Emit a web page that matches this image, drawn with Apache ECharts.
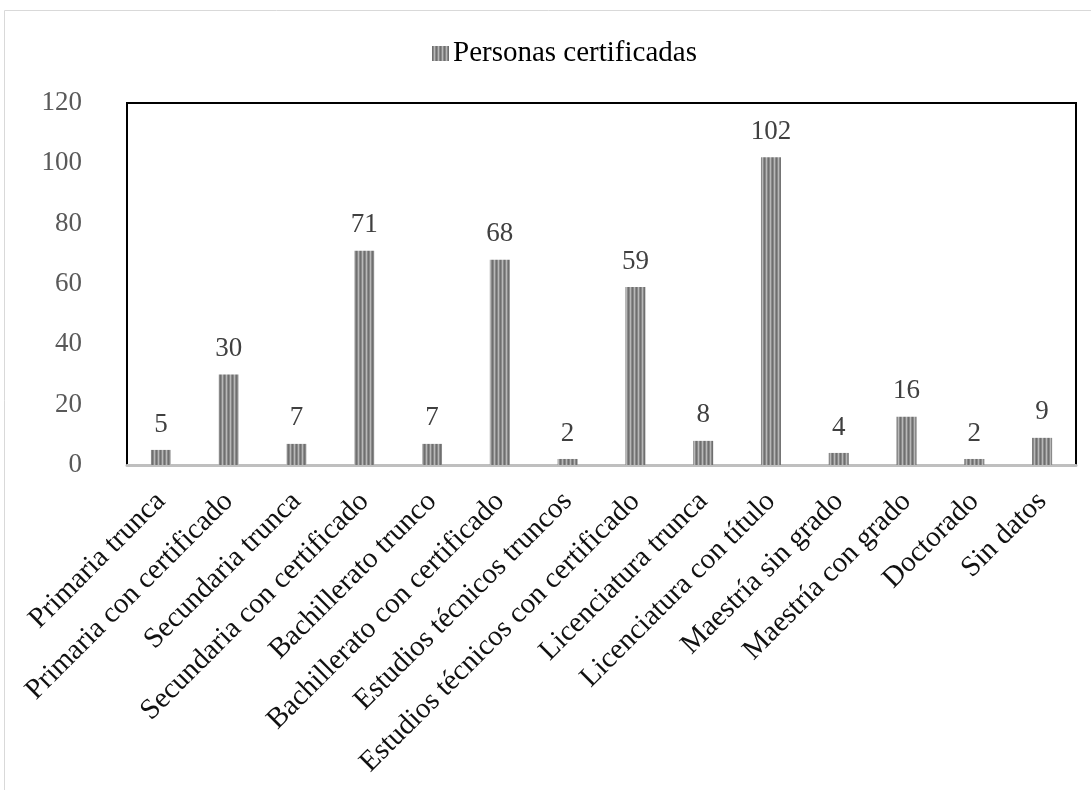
<!DOCTYPE html>
<html>
<head>
<meta charset="utf-8">
<script src="https://cdn.jsdelivr.net/npm/echarts@6/dist/echarts.min.js"></script>
<style>
  html, body { margin: 0; padding: 0; background: #fff; }
  #chart { width: 1091px; height: 790px; }
</style>
</head>
<body>
<div id="chart"></div>
<script>
// categorías (nivel de estudios)
const categories = [
  'Primaria trunca', 'Primaria con certificado', 'Secundaria trunca',
  'Secundaria con certificado', 'Bachillerato trunco', 'Bachillerato con certificado',
  'Estudios técnicos truncos', 'Estudios técnicos con certificado', 'Licenciatura trunca',
  'Licenciatura con título', 'Maestría sin grado', 'Maestría con grado',
  'Doctorado', 'Sin datos'
];
const values = [5, 30, 7, 71, 7, 68, 2, 59, 8, 102, 4, 16, 2, 9];
const seriesName = 'Personas certificadas';
const yTicks = [0, 20, 40, 60, 80, 100, 120];

// patrón de rayas verticales
const stripe = document.createElement('canvas');
stripe.width = 4;
stripe.height = 4;
const ctx = stripe.getContext('2d');
const stripeCols = ['#6f6f6f', '#8a8a8a', '#b8b8b8', '#8a8a8a'];
stripeCols.forEach((c, i) => {
  ctx.fillStyle = c;
  ctx.fillRect(i, 0, 1, 4);
});

const font = '"Liberation Serif", "DejaVu Serif", serif';
const myChart = echarts.init(document.getElementById('chart'));
const option = {
  animation: false,
  textStyle: { fontFamily: font },
  graphic: [{
    type: 'rect',
    shape: { x: 4.5, y: 10.5, width: 1100, height: 800 },
    style: { fill: 'none', stroke: '#d9d9d9', lineWidth: 1 },
    silent: true
  }],
  legend: {
    top: 34,
    left: 427,
    itemWidth: 17,
    itemHeight: 15,
    itemGap: 4,
    icon: 'rect',
    data: [seriesName],
    textStyle: { fontFamily: font, fontSize: 29, color: '#000', padding: [0, 0, 0, -1] }
  },
  grid: {
    left: 127, top: 103, right: 15, bottom: 325,
    show: true, borderColor: '#000', borderWidth: 2,
    containLabel: false
  },
  xAxis: {
    type: 'category',
    data: categories,
    axisLine: { lineStyle: { color: '#bfbfbf', width: 3 } },
    axisTick: { show: false },
    axisLabel: {
      interval: 0, rotate: 45, margin: 32,
      fontFamily: font, fontSize: 29, color: '#111'
    }
  },
  yAxis: {
    type: 'value',
    min: yTicks[0],
    max: yTicks[yTicks.length - 1],
    interval: 20,
    axisLine: { show: false },
    axisTick: { show: false },
    splitLine: { show: false },
    axisLabel: { margin: 45, fontFamily: font, fontSize: 27, color: '#595959' }
  },
  series: [{
    name: seriesName,
    type: 'bar',
    data: values,
    barWidth: 20,
    itemStyle: { color: { image: stripe, repeat: 'repeat' } },
    label: {
      show: true, position: 'top', distance: 12,
      fontFamily: font, fontSize: 27, color: '#404040'
    }
  }]
};
myChart.setOption(option);
</script>
</body>
</html>
